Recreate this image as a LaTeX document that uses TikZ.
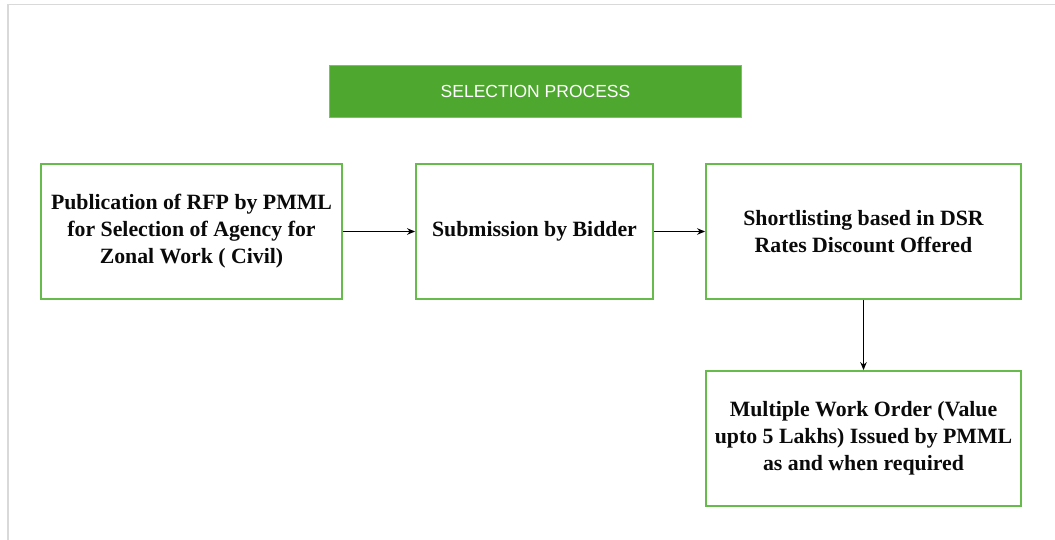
\documentclass[tikz,border=0pt]{standalone}
\usepackage{fontspec}
\setmainfont{Liberation Serif}
\newfontfamily\titlefont{Liberation Sans}
\usetikzlibrary{arrows.meta}
\definecolor{framegray}{HTML}{D9D9D9}
\definecolor{titlegreen}{HTML}{4EA72E}
\definecolor{titleedge}{HTML}{7CC260}
\definecolor{boxgreen}{HTML}{66BB4A}
\definecolor{txt}{HTML}{0A0A0A}
\tikzset{
  stepbox/.style={draw=boxgreen, line width=1.8pt, fill=white, inner sep=0pt,
    align=center, text=txt, font=\fontsize{21.8}{27}\selectfont\bfseries},
  titlebox/.style={draw=titleedge, line width=1pt, fill=titlegreen, inner sep=0pt,
    text=white, font=\titlefont\fontsize{17.5}{20}\selectfont,
    minimum width=412pt, minimum height=52pt},
  flow/.style={draw=black, line width=1.8pt, -{Stealth[length=8pt,width=6.5pt]}}
}
\begin{document}
\begin{tikzpicture}[x=1pt,y=-1pt]
\useasboundingbox (0,0) rectangle (1055,540);
\fill[white] (0,0) rectangle (1055,540);
\draw[framegray, line width=1.6pt] (8,540) -- (8,4.5) -- (1055,4.5);

\node[titlebox] (title) at (535.5,91.5) {SELECTION PROCESS};

\node[stepbox, minimum width=301pt, minimum height=135pt] (pub) at (191.5,231.5)
  {Publication of RFP by PMML\\for Selection of Agency for\\Zonal Work ( Civil)};
\node[stepbox, minimum width=237pt, minimum height=135pt] (sub) at (534.5,231.5)
  {Submission by Bidder};
\node[stepbox, minimum width=315pt, minimum height=135pt] (short) at (863.5,231.5)
  {Shortlisting based in DSR\\Rates Discount Offered};
\node[stepbox, minimum width=315pt, minimum height=135pt] (order) at (863.5,438.5)
  {Multiple Work Order (Value\\upto 5 Lakhs) Issued by PMML\\as and when required};

\draw[flow] (pub.east) -- (sub.west);
\draw[flow] (sub.east) -- (short.west);
\draw[flow] (short.south) -- (order.north);
\end{tikzpicture}
\end{document}
